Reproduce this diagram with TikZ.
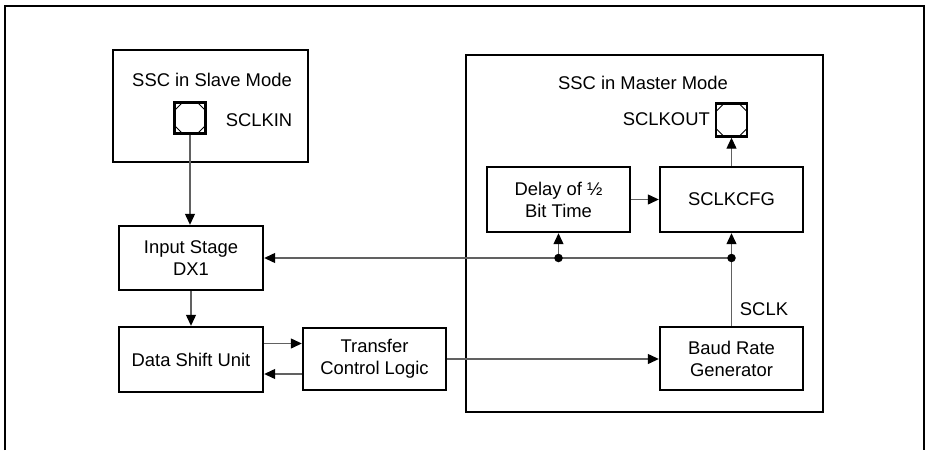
\documentclass[tikz,border=0pt]{standalone}
\usepackage{fontspec}
\setmainfont{Liberation Sans}
\usetikzlibrary{arrows.meta,calc}
\begin{document}
\begin{tikzpicture}[x=1pt,y=-1pt,
  font=\fontsize{18.4}{22}\selectfont,
  blk/.style={draw=black,line width=2.4pt,align=center,inner sep=0pt},
  pinbox/.style={draw=black,line width=2.4pt,minimum size=31pt,inner sep=0pt,
    path picture={
      \draw[line width=0.9pt]
        ([yshift=-8pt]path picture bounding box.north west) -- ([xshift=8pt]path picture bounding box.north west)
        ([yshift=-8pt]path picture bounding box.north east) -- ([xshift=-8pt]path picture bounding box.north east)
        ([yshift=8pt]path picture bounding box.south west) -- ([xshift=8pt]path picture bounding box.south west)
        ([yshift=8pt]path picture bounding box.south east) -- ([xshift=-8pt]path picture bounding box.south east);
    }},
  conn/.style={draw=black!62,line width=1.2pt},
  arr/.style={conn,-{Triangle[length=11pt,width=10pt,black]}},
  dot/.style={circle,fill=black,inner sep=0pt,minimum size=8.5pt},
  lbl/.style={inner sep=0pt}
]
\useasboundingbox (0,0) rectangle (926,450);
% outer frame (open at the bottom)
\draw[line width=2.2pt] (5,450) -- (5,6) -- (924,6) -- (924,450);

% containers
\node[blk,minimum width=195pt,minimum height=112pt] (slave) at (210.5,106) {};
\node[blk,minimum width=357pt,minimum height=357pt] (master) at (644.5,233.5) {};

\node[lbl] (slavet) at (212,80) {SSC in Slave Mode};
\node[lbl] (mastert) at (643,83) {SSC in Master Mode};

% pins
\node[pinbox] (pin1) at (190,118) {};
\node[lbl] (sclkin) at (259,120) {SCLKIN};
\node[pinbox,minimum height=33pt] (pin2) at (731.5,120) {};
\node[lbl,anchor=east] (sclkout) at (710,119) {SCLKOUT};

% blocks
\node[blk,minimum width=144pt,minimum height=64pt] (inp) at (191,258) {Input Stage\\DX1};
\node[blk,minimum width=144pt,minimum height=65pt] (dsu) at (191,359.5) {Data Shift Unit};
\node[blk,minimum width=143pt,minimum height=62pt] (tcl) at (374.5,359) {Transfer\\Control Logic};
\node[blk,minimum width=143pt,minimum height=63pt] (brg) at (731.5,358.5) {Baud Rate\\Generator};
\node[blk,minimum width=143pt,minimum height=65pt] (delay) at (558.5,199.5) {Delay of ½\\Bit Time};
\node[blk,minimum width=143pt,minimum height=65pt] (cfg) at (731.5,199.5) {SCLKCFG};
\node[lbl] (sclk) at (764,309) {SCLK};

% junctions
\coordinate (j1) at (558.5,258);
\coordinate (j2) at (731.5,258);

% connectors
\draw[arr] (pin1.south) -- (pin1.south |- inp.north);
\draw[arr] (inp.south) -- (dsu.north);
\draw[arr] ([yshift=16pt]dsu.east) -- ([yshift=16pt]dsu.east -| tcl.west);
\draw[arr] ([yshift=-15pt]tcl.west) -- ([yshift=-15pt]tcl.west -| dsu.east);
\draw[arr] (tcl.east) -- (tcl.east -| brg.west);
\draw[arr] (brg.north) -- (cfg.south);
\draw[arr] (j2) -- (j2 -| inp.east);
\draw[arr] (j1) -- (delay.south);
\draw[arr] (delay.east) -- (cfg.west);
\draw[arr] (cfg.north) -- (pin2.south);

\node[dot] (d1) at (j1) {};
\node[dot] (d2) at (j2) {};
\end{tikzpicture}
\end{document}
